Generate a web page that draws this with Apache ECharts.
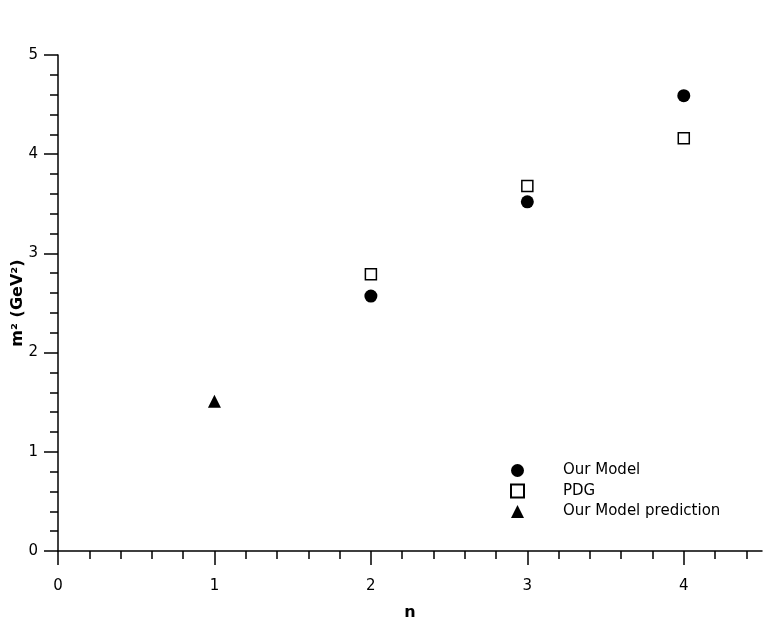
<!DOCTYPE html>
<html>
<head>
<meta charset="utf-8">
<script src="https://cdn.jsdelivr.net/npm/echarts@6/dist/echarts.min.js"></script>
<style>
    html, body { margin: 0; padding: 0; background: #fff; }
    #chart { width: 780px; height: 634px; }
</style>
</head>
<body>
<div id="chart"></div>
<script>
// data
const ourModel = [[2, 2.57], [3, 3.52], [4, 4.59]]
const pdg = [[2, 2.79], [3, 3.68], [4, 4.16]]
const prediction = [[1, 1.51]]
const xMajorTicks = [0, 1, 2, 3, 4]
const xMinorTicks = [0.2, 0.4, 0.6, 0.8, 1.2, 1.4, 1.6, 1.8, 2.2, 2.4, 2.6, 2.8,
    3.2, 3.4, 3.6, 3.8, 4.2, 4.4]

const font = 'DejaVu Sans'
const chart = echarts.init(document.getElementById('chart'))
chart.setOption({
    animation: false,
    backgroundColor: '#fff',
    textStyle: { fontFamily: font, color: '#000' },
    grid: { left: 58, right: 18, top: 55, bottom: 83, containLabel: false, outerBoundsMode: 'none' },
    legend: {
        orient: 'vertical',
        left: 505,
        top: 458,
        itemWidth: 13,
        itemHeight: 13,
        itemGap: 5.5,
        textStyle: { fontFamily: font, fontSize: 15, color: '#000', padding: [0, 0, 0, 34] },
        data: ['Our Model', 'PDG', 'Our Model prediction']
    },
    xAxis: [
        {
            type: 'value',
            min: 0,
            max: 4.5,
            position: 'bottom',
            name: 'n',
            nameLocation: 'middle',
            nameGap: 54,
            nameMoveOverlap: false,
            nameTextStyle: { fontFamily: font, fontSize: 16, fontWeight: 'bold', color: '#000' },
            splitLine: { show: false },
            axisLine: { show: true, lineStyle: { color: '#000', width: 1.5 } },
            axisTick: { show: true, length: 14, customValues: xMajorTicks, lineStyle: { color: '#000', width: 1.5 } },
            axisLabel: { customValues: xMajorTicks, margin: 28, fontSize: 15, color: '#000', fontFamily: font }
        },
        {
            type: 'value',
            min: 0,
            max: 4.5,
            position: 'bottom',
            splitLine: { show: false },
            axisLine: { show: false },
            axisTick: { show: true, length: 8, customValues: xMinorTicks, lineStyle: { color: '#000', width: 1.5 } },
            axisLabel: { show: false }
        }
    ],
    yAxis: {
        type: 'value',
        min: 0,
        max: 5,
        interval: 1,
        name: 'm² (GeV²)',
        nameLocation: 'middle',
        nameGap: 32,
        nameRotate: 90,
        nameMoveOverlap: false,
        nameTextStyle: { fontFamily: font, fontSize: 16, fontWeight: 'bold', color: '#000' },
        splitLine: { show: false },
        axisLine: { show: true, lineStyle: { color: '#000', width: 1.5 } },
        axisTick: { show: true, length: 14, lineStyle: { color: '#000', width: 1.5 } },
        minorTick: { show: true, splitNumber: 5, length: 8, lineStyle: { color: '#000', width: 1.5 } },
        axisLabel: { margin: 20, fontSize: 15, color: '#000', fontFamily: font }
    },
    series: [
        {
            name: 'Our Model',
            type: 'scatter',
            symbol: 'circle',
            symbolSize: 13,
            itemStyle: { color: '#000', opacity: 1 },
            data: ourModel
        },
        {
            name: 'PDG',
            type: 'scatter',
            symbol: 'rect',
            symbolSize: 11,
            itemStyle: { color: '#fff', borderColor: '#000', borderWidth: 1.5, opacity: 1 },
            data: pdg
        },
        {
            name: 'Our Model prediction',
            type: 'scatter',
            symbol: 'triangle',
            symbolSize: 13,
            itemStyle: { color: '#000', opacity: 1 },
            data: prediction
        }
    ]
})
</script>
</body>
</html>
